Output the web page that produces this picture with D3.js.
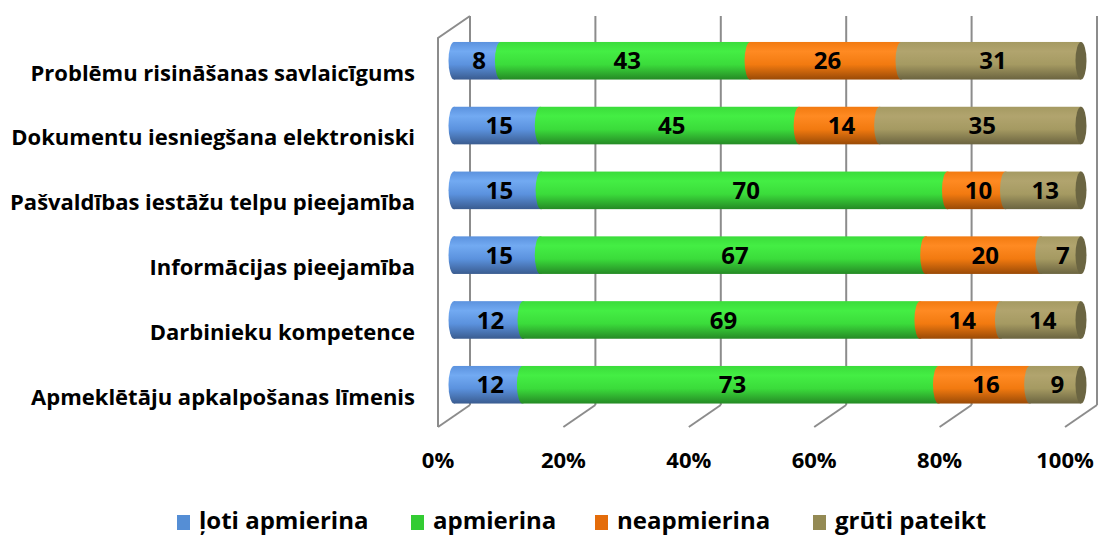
<!DOCTYPE html>
<html>
<head>
<meta charset="utf-8">
<script src="https://cdn.jsdelivr.net/npm/d3@7"></script>
<style>
  body { margin: 0; background: #fff; }
  text { font-family: "Open Sans", Lato, sans-serif; font-weight: bold; }
</style>
</head>
<body>
<svg width="1099" height="536"></svg>
<script>
// categories, top to bottom
const categories = [
    "Problēmu risināšanas savlaicīgums",
    "Dokumentu iesniegšana elektroniski",
    "Pašvaldības iestāžu telpu pieejamība",
    "Informācijas pieejamība",
    "Darbinieku kompetence",
    "Apmeklētāju apkalpošanas līmenis"
];
const seriesNames = ["ļoti apmierina", "apmierina", "neapmierina", "grūti pateikt"];
const lotiApmierina = [8, 15, 15, 15, 12, 12];
const apmierina = [43, 45, 70, 67, 69, 73];
const neapmierina = [26, 14, 10, 20, 14, 16];
const grutiPateikt = [31, 35, 13, 7, 14, 9];
const tickLabels = ["0%", "20%", "40%", "60%", "80%", "100%"];

const series = [lotiApmierina, apmierina, neapmierina, grutiPateikt];
const colors = [
    { light: "#72aaf2", base: "#5b92de", dark: "#3a5c90", legend: "#558ed5" },
    { light: "#44ee44", base: "#3bdc3b", dark: "#258a25", legend: "#33cc33" },
    { light: "#ff8a22", base: "#f27a10", dark: "#9a4a06", legend: "#e46c0a" },
    { light: "#b1a46e", base: "#a59a62", dark: "#6b6440", legend: "#948a54" }
];

const svg = d3.select("svg");
const defs = svg.append("defs");
colors.forEach((c, i) => {
    const g = defs.append("linearGradient")
        .attr("id", "grad" + i)
        .attr("x1", 0).attr("y1", 0).attr("x2", 0).attr("y2", 1);
    g.append("stop").attr("offset", "0%").attr("stop-color", c.base);
    g.append("stop").attr("offset", "25%").attr("stop-color", c.light);
    g.append("stop").attr("offset", "60%").attr("stop-color", c.base);
    g.append("stop").attr("offset", "100%").attr("stop-color", c.dark);
});

// 3D geometry
const depthX = 32, depthY = -22;
const floorY = 427, topY = 38;

const x = d3.scaleLinear().domain([0, 100]).range([438, 1065]);
const y = d3.scaleBand().domain(categories).range([40, 427.5]).paddingInner(0.42).paddingOuter(0.2);

const grid = svg.append("g").attr("stroke", "#8c8c8c").attr("stroke-width", 2).attr("fill", "none");
// left wall outline
grid.append("path")
    .attr("d", `M${x(0)},${floorY} L${x(0)},${topY} L${x(0) + depthX},${topY + depthY}`);
// back gridlines + floor diagonals
d3.range(0, 101, 20).forEach(v => {
    grid.append("line")
        .attr("x1", x(v) + depthX).attr("x2", x(v) + depthX)
        .attr("y1", topY + depthY).attr("y2", floorY + depthY);
    grid.append("line")
        .attr("x1", x(v) + depthX).attr("y1", floorY + depthY)
        .attr("x2", x(v)).attr("y2", floorY);
});

// bars (cylinders at half depth)
const bx = depthX / 2, by = depthY / 2;
const rx = 5.5;
const bars = svg.append("g");
categories.forEach((cat, ci) => {
    const vals = series.map(s => s[ci]);
    const total = d3.sum(vals);
    const yy = y(cat) + by;
    const h = y.bandwidth();
    let acc = 0;
    const segs = vals.map((v, si) => {
        const s = { si, v, p0: acc / total * 100, p1: (acc + v) / total * 100 };
        acc += v;
        return s;
    });
    segs.forEach(s => {
        const x0 = x(s.p0) + bx, x1 = x(s.p1) + bx;
        bars.append("rect")
            .attr("x", x0).attr("y", yy)
            .attr("width", x1 - x0).attr("height", h)
            .attr("fill", `url(#grad${s.si})`);
        bars.append("ellipse")
            .attr("cx", x0).attr("cy", yy + h / 2)
            .attr("rx", rx).attr("ry", h / 2)
            .attr("fill", `url(#grad${s.si})`);
    });
    // end cap
    bars.append("ellipse")
        .attr("cx", x(100) + bx).attr("cy", yy + h / 2)
        .attr("rx", rx).attr("ry", h / 2)
        .attr("fill", "#6b6542");
    segs.forEach(s => {
        bars.append("text")
            .attr("x", (x(s.p0) + x(s.p1)) / 2 + bx + 2)
            .attr("y", yy + h / 2)
            .attr("dy", "0.36em")
            .attr("text-anchor", "middle")
            .attr("font-size", 24)
            .attr("fill", "#000")
            .text(s.v);
    });
    // category label sits on the front plane
    svg.append("text")
        .attr("x", 415)
        .attr("y", y(cat) + h / 2 + 1)
        .attr("dy", "0.36em")
        .attr("text-anchor", "end")
        .attr("font-size", 22)
        .attr("fill", "#000")
        .text(cat);
});

// tick labels
svg.selectAll(".tick")
    .data(tickLabels)
    .enter()
    .append("text")
    .attr("class", "tick")
    .attr("x", (d, i) => x(i * 20))
    .attr("y", 460)
    .attr("dy", "0.36em")
    .attr("text-anchor", "middle")
    .attr("font-size", 22)
    .text(d => d);

// legend
const legendX = [177, 411, 595, 813];
const legend = svg.append("g");
seriesNames.forEach((n, i) => {
    legend.append("rect")
        .attr("x", legendX[i]).attr("y", 515)
        .attr("width", 13).attr("height", 15)
        .attr("fill", colors[i].legend);
    legend.append("text")
        .attr("x", legendX[i] + 22).attr("y", 529)
        .attr("font-size", 24)
        .text(n);
});
</script>
</body>
</html>
